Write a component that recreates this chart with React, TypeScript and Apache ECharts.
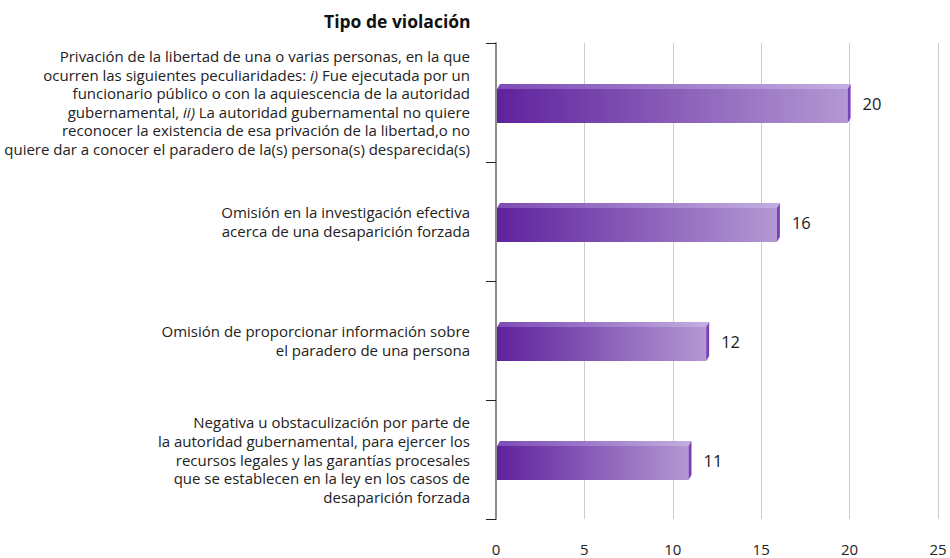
import React, { useEffect, useRef } from "react";
import * as echarts from "echarts";

const titleText = "Tipo de violación";
const categories = [
  "Privación de la libertad de una o varias personas, en la que\nocurren las siguientes peculiaridades: i) Fue ejecutada por un\nfuncionario público o con la aquiescencia de la autoridad\ngubernamental, ii) La autoridad gubernamental no quiere\nreconocer la existencia de esa privación de la libertad,o no\nquiere dar a conocer el paradero de la(s) persona(s) desparecida(s)",
  "Omisión en la investigación efectiva\nacerca de una desaparición forzada",
  "Omisión de proporcionar información sobre\nel paradero de una persona",
  "Negativa u obstaculización por parte de\nla autoridad gubernamental, para ejercer los\nrecursos legales y las garantías procesales\nque se establecen en la ley en los casos de\ndesaparición forzada",
];
const values = [20, 16, 12, 11];
const xMin = 0;
const xMax = 25;
const xInterval = 5;

const FONT = "'Open Sans', 'Noto Sans', sans-serif";

export default function App() {
  const ref = useRef<HTMLDivElement>(null);
  useEffect(() => {
    const chart = echarts.init(ref.current!, null, { renderer: "svg" });
    const frontGrad = {
      type: "linear", x: 0, y: 0, x2: 1, y2: 0,
      colorStops: [
        { offset: 0, color: "#5f229d" },
        { offset: 1, color: "#b398d3" },
      ],
    };
    const topGrad = {
      type: "linear", x: 0, y: 0, x2: 1, y2: 0,
      colorStops: [
        { offset: 0, color: "#7d4cb6" },
        { offset: 1, color: "#c3aee0" },
      ],
    };
    chart.setOption({
      animation: false,
      title: {
        text: titleText,
        left: 319,
        top: 7,
        textStyle: { fontSize: 17.5, fontWeight: "bold", color: "#111", fontFamily: FONT },
      },
      grid: { left: 496, right: 12, top: 43, bottom: 39 },
      xAxis: {
        type: "value",
        min: xMin,
        max: xMax,
        interval: xInterval,
        axisLine: { show: false },
        axisTick: { show: false },
        splitLine: { show: true, lineStyle: { color: "#cccccc", width: 1 } },
        axisLabel: { margin: 22, fontSize: 15, color: "#222", fontFamily: FONT },
      },
      yAxis: {
        type: "category",
        inverse: true,
        data: categories,
        axisLine: { show: true, lineStyle: { color: "#8c8c8c", width: 2 } },
        axisTick: { show: true, length: 10, lineStyle: { color: "#222", width: 1 } },
        axisLabel: {
          margin: 26,
          fontSize: 15,
          lineHeight: 18.6,
          color: "#222",
          fontFamily: FONT,
          align: "right",
          formatter: (s: string) => s.replace(/\bi{1,2}\)/g, (m) => `{it|${m}}`),
          rich: {
            it: { fontStyle: "italic", fontSize: 15, lineHeight: 18.6, color: "#222", fontFamily: FONT },
          },
        },
      },
      series: [
        {
          type: "custom",
          data: values.map((v, i) => [v, i]),
          encode: { x: 0, y: 1 },
          renderItem: (params: any, api: any) => {
            const v = api.value(0);
            const idx = api.value(1);
            const end = api.coord([v, idx]);
            const start = api.coord([0, idx]);
            const band = api.size([0, 1])[1];
            const h = band * 0.286;
            const c = end[1] + band * 0.03;
            const mt = c - h / 2;
            const mb = c + h / 2;
            const x0 = start[0] + 1;
            const x1 = end[0] - 2;
            const dx = 3;
            const dy = 5;
            return {
              type: "group",
              children: [
                {
                  type: "rect",
                  shape: { x: x0, y: mt, width: x1 - x0, height: h },
                  style: { fill: frontGrad },
                },
                {
                  type: "polygon",
                  shape: { points: [[x0, mt], [x0 + dx, mt - dy], [x1 + dx, mt - dy], [x1, mt]] },
                  style: { fill: topGrad },
                },
                {
                  type: "polygon",
                  shape: { points: [[x1, mt], [x1 + dx, mt - dy], [x1 + dx, mb - dy], [x1, mb]] },
                  style: { fill: "#7b40bb" },
                },
                {
                  type: "text",
                  x: end[0] + 13,
                  y: end[1] + 1,
                  style: {
                    text: String(v),
                    fontSize: 16.5,
                    fill: "#1a1a1a",
                    fontFamily: FONT,
                    verticalAlign: "middle",
                    align: "left",
                  },
                },
              ],
            };
          },
        },
      ],
    });
    return () => chart.dispose();
  }, []);
  return (
    <div
      ref={ref}
      style={{ position: "absolute", left: 0, top: 0, width: 950, height: 558, background: "#fff" }}
    />
  );
}
